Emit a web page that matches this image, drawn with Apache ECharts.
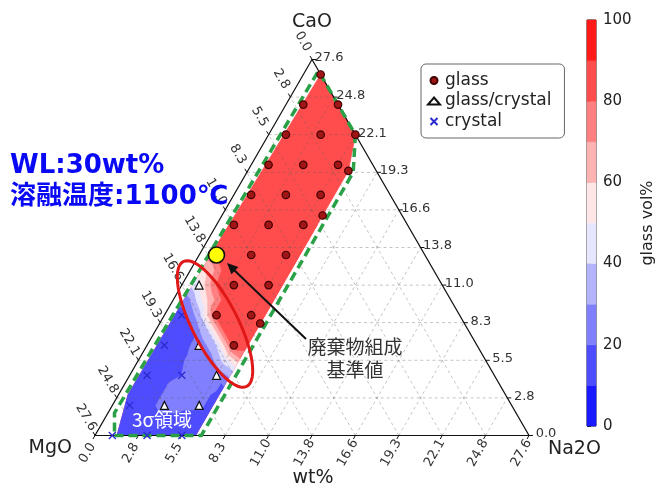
<!DOCTYPE html>
<html><head><meta charset="utf-8">
<script src="https://cdn.jsdelivr.net/npm/echarts@6/dist/echarts.min.js"></script>
<style>html,body{margin:0;padding:0;background:#fff}#c{width:657px;height:483px}</style>
</head><body><div id="c"></div>
<script>
// ---------------- data ----------------
const TOTAL = 27.6;
const tickValues = [0, 2.76, 5.52, 8.28, 11.04, 13.8, 16.56, 19.32, 22.08, 24.84, 27.6];
const tickLabels = ['0.0','2.8','5.5','8.3','11.0','13.8','16.6','19.3','22.1','24.8','27.6'];
const vertexNames = ['CaO', 'MgO', 'Na2O'];
// samples as [CaO wt%, Na2O wt%] (MgO = 27.6 - CaO - Na2O)
const glassPts = [
  [26.5,1.1],
  [24.29,1.1],[24.29,3.31],
  [22.08,1.1],[22.08,3.31],[22.08,5.52],
  [19.87,1.1],[19.87,3.31],[19.87,5.52],
  [17.66,1.1],[17.66,3.31],[17.66,5.52],
  [15.46,1.1],[15.46,3.31],[15.46,5.52],
  [13.25,3.31],[13.25,5.52],
  [11.04,3.31],[11.04,5.52],
  [8.83,3.31],[8.83,5.52],
  [6.62,5.52],
  [19.43,6.4],[16.15,6.4],[8.22,6.4]
];
const glassCrystalPts = [[11.04,1.1],[6.62,3.31],[4.42,5.52],[2.21,3.31],[2.21,5.52]];
const crystalPts = [[8.83,1.1],[6.62,1.1],[4.42,1.1],[4.42,3.31],[2.21,1.1],[0,1.1],[0,3.31],[0,5.52]];
const referencePt = [13.25, 1.1];
// estimated glass vol% field (rows: CaO, columns: Na2O)
const fieldCaO = [0,1.1,2.21,3.31,4.42,5.52,6.62,7.73,8.83,9.94,11.04,12.14,13.25,14.35,15.46];
const fieldNa2O = [0,1.1,2.21,3.31,4.42,5.52,6.62];
const fieldValues = [
  [15,15,15,15,15,15,15],
  [15,15,15,18,18,15,15],
  [15,15,18,22,22,22,15],
  [15,15,18,22,22,22,18],
  [15,15,18,20,21,22,35],
  [15,15,18,21,22,45,70],
  [15,15,18,22,40,85,85],
  [15,15,18,40,85,85,85],
  [15,15,35,85,85,85,85],
  [20,30,60,85,85,85,85],
  [30,50,80,85,85,85,85],
  [45,60,85,85,85,85,85],
  [70,80,85,85,85,85,85],
  [80,85,85,85,85,85,85],
  [85,85,85,85,85,85,85]
];
const upperFieldValue = 85;
const fillRegion = [[0,1.4],[0,6.4],[19.43,6.4],[22.08,5.52],[26.5,1.1],[12,0.7],[3,0.6]];
const sigmaRegion = [[0,1.24],[0,6.76],[19.32,6.76],[22.08,5.52],[26.77,0.83],[1.66,0.41]];
const levels = [0,10,20,30,40,50,60,70,80,90,100];
const levelColors = ['#1a1aff','#4d4dff','#8080ff','#b3b3ff','#e6e6ff','#ffe6e6','#ffb3b3','#ff8080','#ff4d4d','#ff1a1a'];

// ---------------- helpers ----------------
const SQ = Math.sqrt(3)/2;
function toXY(c, n){ const a=c/TOTAL, b=n/TOTAL; return [b + a/2, a*SQ]; }
function clipPoly(poly, d){
  const out=[]; const n=poly.length;
  for(let i=0;i<n;i++){
    const P=poly[i], Q=poly[(i+1)%n];
    const dp=d(P), dq=d(Q);
    if(dp>=0) out.push(P);
    if((dp>=0)!==(dq>=0)){ const t=dp/(dp-dq); out.push({x:P.x+t*(Q.x-P.x), y:P.y+t*(Q.y-P.y), v:P.v+t*(Q.v-P.v)}); }
  }
  return out;
}
function area(poly){ let s=0; for(let i=0;i<poly.length;i++){const p=poly[i],q=poly[(i+1)%poly.length]; s+=p.x*q.y-q.x*p.y;} return Math.abs(s/2); }
const fillXY = fillRegion.map(p=>{const q=toXY(p[0],p[1]); return {x:q[0],y:q[1],v:upperFieldValue};});
function binOf(v){ for(let k=0;k<levels.length-1;k++){ if(v<levels[k+1]) return k;} return levels.length-2; }
const bandPolys = [{bin: binOf(upperFieldValue), pts: fillXY}];
function node(k,j){ const q=toXY(fieldCaO[k], fieldNa2O[j]); return {x:q[0], y:q[1], v:fieldValues[k][j]}; }
for(let k=0;k<fieldCaO.length-1;k++){
  for(let j=0;j<fieldNa2O.length-1;j++){
    const tris=[[node(k,j),node(k,j+1),node(k+1,j)],[node(k+1,j),node(k,j+1),node(k+1,j+1)]];
    for(const tri of tris){
      let poly=tri;
      for(let e=0;e<fillXY.length && poly.length>=3;e++){
        const p=fillXY[e], q=fillXY[(e+1)%fillXY.length];
        poly=clipPoly(poly, pt=>(q.x-p.x)*(pt.y-p.y)-(q.y-p.y)*(pt.x-p.x));
      }
      if(poly.length<3) continue;
      for(let b=0;b<levels.length-1;b++){
        const lo=levels[b], hi=levels[b+1];
        let p1=clipPoly(poly, pt=>pt.v-lo);
        if(p1.length<3) continue;
        p1=clipPoly(p1, pt=>hi-pt.v);
        if(p1.length<3 || area(p1)<1e-9) continue;
        bandPolys.push({bin:b, pts:p1});
      }
    }
  }
}

// ---------------- chart ----------------
const chart = echarts.init(document.getElementById('c'));
const tickFont = '13px "DejaVu Sans"';
const option = {
  animation:false,
  backgroundColor:'#fff',
  grid:[
    {left:95, top:59.5, width:434, height:376, show:false},
    {left:587, top:20, width:17, height:406, show:true, borderColor:'#222', borderWidth:1}
  ],
  xAxis:[
    {type:'value', min:0, max:1, show:false, gridIndex:0},
    {type:'value', min:0, max:1, show:false, gridIndex:1}
  ],
  yAxis:[
    {type:'value', min:0, max:SQ, show:false, gridIndex:0},
    {type:'value', min:0, max:100, interval:20, gridIndex:1, position:'right',
     axisLine:{show:false}, splitLine:{show:false},
     axisTick:{show:true, length:4, lineStyle:{color:'#222'}},
     axisLabel:{fontSize:15, color:'#222', margin:7, fontFamily:'DejaVu Sans'},
     name:'glass vol%', nameLocation:'middle', nameRotate:90, nameGap:44,
     nameTextStyle:{fontSize:16, color:'#222', fontFamily:'DejaVu Sans'}}
  ],
  legend:{
    data:['glass','glass/crystal','crystal'], orient:'vertical', left:421, top:64,
    padding:[8,13,8,6], itemGap:3.5, itemWidth:12, itemHeight:7,
    borderColor:'#666', borderWidth:1, borderRadius:5,
    textStyle:{fontSize:17, color:'#222', fontFamily:'DejaVu Sans'}
  },
  series:[
    { // contour fill
      type:'custom', coordinateSystem:'cartesian2d', xAxisIndex:0, yAxisIndex:0, z:1, silent:true, clip:false,
      data: bandPolys.map((p,i)=>[p.pts[0].x, p.pts[0].y, i]),
      renderItem:(params, api)=>{
        const bp = bandPolys[params.dataIndex];
        const col = levelColors[bp.bin];
        return {type:'polygon', shape:{points: bp.pts.map(p=>api.coord([p.x,p.y]))},
                style:{fill:col, stroke:col, lineWidth:0.8}};
      }
    },
    { // gridlines, frame, ticks, tick labels
      type:'custom', coordinateSystem:'cartesian2d', z:2, silent:true, clip:false,
      data:[[0,0]],
      renderItem:(params, api)=>{
        const ch=[];
        const C=(c,n)=>api.coord(toXY(c,n));
        for(let k=1;k<tickValues.length-1;k++){
          const v=tickValues[k];
          const segs=[[C(v,0),C(v,TOTAL-v)],[C(0,v),C(TOTAL-v,v)],[C(0,TOTAL-v),C(TOTAL-v,0)]];
          for(const s of segs) ch.push({type:'line', shape:{x1:s[0][0],y1:s[0][1],x2:s[1][0],y2:s[1][1]},
            style:{stroke:'rgba(90,90,90,0.45)', lineWidth:0.8, lineDash:[3,3]}});
        }
        const A=C(TOTAL,0), B=C(0,0), D=C(0,TOTAL);
        ch.push({type:'polygon', shape:{points:[A,B,D]}, style:{fill:'none', stroke:'#111', lineWidth:1.2}});
        for(let k=0;k<tickValues.length;k++){
          const v=tickValues[k], lab=tickLabels[k];
          const r=C(v,TOTAL-v);
          ch.push({type:'line', shape:{x1:r[0],y1:r[1],x2:r[0]+4,y2:r[1]}, style:{stroke:'#111',lineWidth:1}});
          ch.push({type:'text', x:r[0]+17, y:r[1]-1.5, style:{text:lab, font:tickFont, fill:'#333', align:'center', verticalAlign:'middle'}});
          const l=C(TOTAL-v,0);
          ch.push({type:'line', shape:{x1:l[0],y1:l[1],x2:l[0]-2,y2:l[1]-3.5}, style:{stroke:'#111',lineWidth:1}});
          ch.push({type:'text', x:l[0]-9, y:l[1]-18, rotation:-Math.PI/3, style:{text:lab, font:tickFont, fill:'#333', align:'center', verticalAlign:'middle'}});
          const b=C(0,v);
          ch.push({type:'line', shape:{x1:b[0],y1:b[1],x2:b[0]-2,y2:b[1]+3.5}, style:{stroke:'#111',lineWidth:1}});
          ch.push({type:'text', x:b[0]-7.5, y:b[1]+17.5, rotation:Math.PI/3, style:{text:lab, font:tickFont, fill:'#333', align:'center', verticalAlign:'middle'}});
        }
        return {type:'group', children:ch};
      }
    },
    { // 3 sigma region
      type:'custom', coordinateSystem:'cartesian2d', z:3, silent:true, clip:false,
      data:[[0,0]],
      renderItem:(params, api)=>({type:'polygon',
        shape:{points: sigmaRegion.map(p=>api.coord(toXY(p[0],p[1])))},
        style:{fill:'none', stroke:'#2aa146', lineWidth:3.5, lineDash:[9,5]}})
    },
    {name:'glass', type:'scatter', z:4, symbol:'circle', symbolSize:7.5,
     itemStyle:{color:'#a01515', borderColor:'#400000', borderWidth:1.2, opacity:1},
     data: glassPts.map(p=>toXY(p[0],p[1]))},
    {name:'glass/crystal', type:'scatter', z:4, symbol:'triangle', symbolSize:8,
     itemStyle:{color:'#ffffff', borderColor:'#111', borderWidth:1.2, opacity:1},
     data: glassCrystalPts.map(p=>toXY(p[0],p[1]))},
    {name:'crystal', type:'scatter', z:4, symbol:'path://M0,0L10,10M0,10L10,0', symbolSize:7,
     itemStyle:{color:'rgba(0,0,0,0)', borderColor:'#2a2ad0', borderWidth:1.3, opacity:1},
     data: crystalPts.map(p=>toXY(p[0],p[1]))},
    {name:'reference', type:'scatter', z:6, symbol:'circle', symbolSize:16,
     itemStyle:{color:'#ffff00', borderColor:'#111', borderWidth:1.6, opacity:1},
     data:[toXY(referencePt[0], referencePt[1])]},
    { // colorbar
      type:'custom', coordinateSystem:'cartesian2d', xAxisIndex:1, yAxisIndex:1, z:2, silent:true,
      data: levelColors.map((c,k)=>[0.5, (levels[k]+levels[k+1])/2, k]),
      renderItem:(params, api)=>{
        const k=params.dataIndex;
        const p0=api.coord([0, levels[k]]), p1=api.coord([1, levels[k+1]]);
        return {type:'rect', shape:{x:p0[0], y:p1[1], width:p1[0]-p0[0], height:p0[1]-p1[1]},
                style:{fill:levelColors[k], stroke:levelColors[k], lineWidth:0.5}};
      }
    }
  ],
  graphic:(function(){
    const g=[];
    const cx=215, cy=324, A=70, B=23, ux=0.452, uy=0.892, wx=-0.892, wy=0.452;
    const pts=[];
    for(let i=0;i<72;i++){const t=i/72*2*Math.PI; pts.push([cx+A*Math.cos(t)*ux+B*Math.sin(t)*wx, cy+A*Math.cos(t)*uy+B*Math.sin(t)*wy]);}
    g.push({type:'polygon', z:100, shape:{points:pts}, style:{fill:'none', stroke:'#e01818', lineWidth:3}});
    g.push({type:'line', z:100, shape:{x1:306,y1:339,x2:233,y2:269}, style:{stroke:'#111', lineWidth:2}});
    g.push({type:'polygon', z:100, shape:{points:[[227,263],[238.4,267],[231.4,274.2]]}, style:{fill:'#111'}});
    const T=(x,y,text,font,fill,align)=>g.push({type:'text', z:100, x:x, y:y, style:{text:text, font:font, fill:fill, align:align||'center', verticalAlign:'middle'}});
    T(312,22,vertexNames[0],'19px "DejaVu Sans"','#222');
    T(72,448,vertexNames[1],'19px "DejaVu Sans"','#222','right');
    T(548,449,vertexNames[2],'19px "DejaVu Sans"','#222','left');
    T(313,478,'wt%','19px "DejaVu Sans"','#222');
    T(10,166,'WL:30wt%','bold 26px "DejaVu Sans","Noto Sans CJK JP"','#0808f5','left');
    T(10,197,'溶融温度:1100℃','bold 26px "DejaVu Sans","Noto Sans CJK JP"','#0808f5','left');
    T(355,347,'廃棄物組成','19px "Noto Sans CJK JP"','#333');
    T(355,370,'基準値','19px "Noto Sans CJK JP"','#333');
    T(162,420,'3σ領域','19px "Noto Sans CJK JP"','#ffffff');
    return g;
  })()
};
chart.setOption(option);
</script></body></html>
